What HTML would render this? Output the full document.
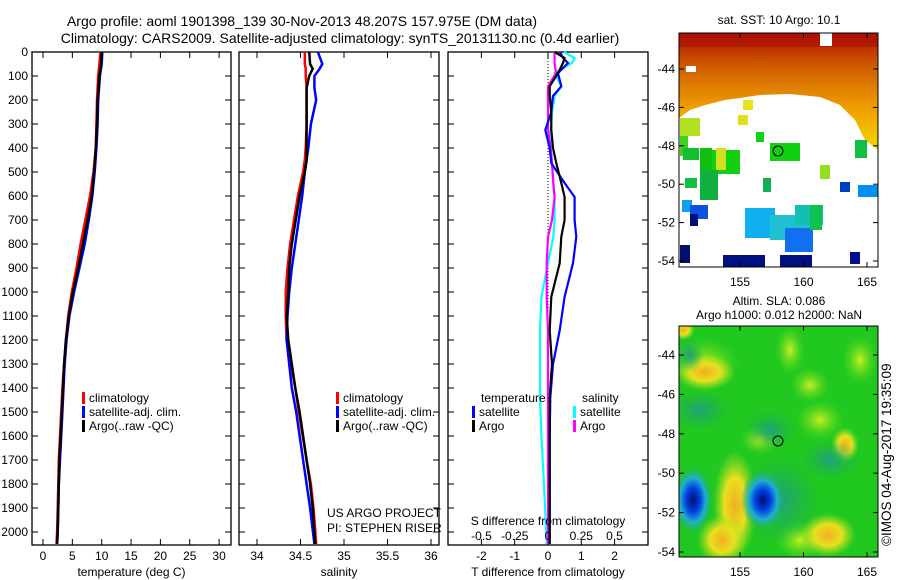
<!DOCTYPE html>
<html><head><meta charset="utf-8"><style>
html,body{margin:0;padding:0;background:#fff;}
svg{display:block;font-family:"Liberation Sans",sans-serif;}
text{font-size:12px;fill:#000;}
</style></head><body>
<svg id="fig" width="900" height="580" viewBox="0 0 900 580">
<text x="302" y="26" text-anchor="middle" style="font-size:14px">Argo profile: aoml 1901398_139 30-Nov-2013 48.207S 157.975E (DM data)</text>
<text x="340" y="43" text-anchor="middle" style="font-size:14px">Climatology: CARS2009. Satellite-adjusted climatology: synTS_20131130.nc (0.4d earlier)</text>
<g id="p1"></g>
<g id="p2"></g>
<g id="p3"></g>
<g id="maps"></g>
<text x="0" y="0" transform="translate(891,546) rotate(-90)" style="font-size:13.5px">©IMOS 04-Aug-2017 19:35:09</text>
</svg>
<script>
// depth levels (dbar)
const tDepth=[0,50,100,200,300,400,500,600,700,800,900,1000,1100,1200,1300,1400,1500,1600,1700,1800,1900,2000,2050];
const tArgo=[10,9.9,9.6,9.3,9.2,9.0,8.7,8.3,7.6,6.8,6.0,5.1,4.4,3.9,3.6,3.4,3.2,3.0,2.8,2.7,2.6,2.5,2.4];
const tClim=[9.8,9.6,9.4,9.2,9.1,9.0,8.6,8.0,7.2,6.4,5.7,4.9,4.3,3.9,3.6,3.3,3.1,2.9,2.7,2.6,2.5,2.4,2.3];
const tSat=[10.1,10.0,9.7,9.4,9.3,9.1,8.8,8.4,7.8,7.1,6.2,5.3,4.5,4.0,3.7,3.5,3.3,3.1,2.9,2.7,2.6,2.5,2.4];
const sDepth=[0,50,70,100,150,200,300,400,450,500,600,800,900,1000,1100,1200,1300,1400,1500,1700,1800,1900,2050];
const sArgo=[34.60,34.61,34.64,34.60,34.57,34.57,34.57,34.57,34.57,34.55,34.49,34.40,34.37,34.36,34.34,34.36,34.40,34.44,34.49,34.57,34.61,34.64,34.67];
const sClim=[34.55,34.55,34.56,34.56,34.57,34.57,34.57,34.56,34.55,34.53,34.47,34.38,34.35,34.33,34.33,34.34,34.39,34.44,34.48,34.57,34.62,34.65,34.68];
const sSat=[34.70,34.75,34.72,34.66,34.66,34.68,34.62,34.59,34.57,34.55,34.52,34.44,34.40,34.37,34.35,34.34,34.37,34.40,34.45,34.53,34.57,34.61,34.66];
const dDepth=[0,25,46,88,143,183,250,325,400,463,546,604,700,770,880,1020,1160,1300,1440,1600,1800,2050];
const dTSat=[0.36,0.45,0.6,0.3,0.4,0.15,0.1,-0.08,0.05,0.1,0.5,0.8,0.8,0.85,0.75,0.5,0.35,0.15,0.07,0.05,0.05,0.05];
const dTArgo=[0.2,0.5,0.45,0.3,0.05,0.05,0.1,0.1,0.15,0.25,0.4,0.5,0.5,0.4,0.35,0.1,0.05,0.12,0.05,0.05,0.05,0.05];
const dSSat=[0.12,0.2,0.18,0.05,0.1,0.05,0.03,0.02,0.02,0.03,0.04,0.05,0.05,0.04,0.0,-0.05,-0.06,-0.06,-0.06,-0.05,-0.03,-0.01];
const dSArgo=[0.05,0.05,0.05,0.06,0.0,0.0,0.0,0.0,0.02,0.03,0.04,0.05,0.03,0.0,-0.01,-0.01,0.0,0.0,0.0,0.0,0.0,0.0];
const depthTicks=[0,100,200,300,400,500,600,700,800,900,1000,1100,1200,1300,1400,1500,1600,1700,1800,1900,2000];
const tTicks=[0,5,10,15,20,25,30];
const sTicks=[34,34.5,35,35.5,36];
const dtTicks=[-2,-1,0,1,2];
const dsTicks=[-0.5,-0.25,0,0.25,0.5];
const dsTickLabels=["-0.5","-0.25","0","0.25","0.5"];

const NS="http://www.w3.org/2000/svg";
function mk(tag,attrs,parent){const e=document.createElementNS(NS,tag);for(const k in attrs)e.setAttribute(k,attrs[k]);parent.appendChild(e);return e;}
const yD=d=>52+0.24*d;
const xT=v=>43+5.87*v;
const xS=v=>257+(v-34)*87;
const xDT=v=>548+33.3*v;
const xDS=v=>548+133*v;

function frame(g,x0,x1,xticks,xf,labels,title,yLabels){
  const r=mk('rect',{x:x0,y:52,width:x1-x0,height:493,fill:'none',stroke:'#000','stroke-width':1.3},g);
  
  depthTicks.forEach(d=>{const y=yD(d);
    mk('line',{x1:x0,x2:x0+6,y1:y,y2:y,stroke:'#000'},g);mk('line',{x1:x1-6,x2:x1,y1:y,y2:y,stroke:'#000'},g);
    if(yLabels){const t=mk('text',{x:x0-4,y:y+4,'text-anchor':'end'},g);t.textContent=d;
      }});
  xticks.forEach((v,i)=>{const x=xf(v);
    mk('line',{x1:x,x2:x,y1:545,y2:539,stroke:'#000'},g);mk('line',{x1:x,x2:x,y1:52,y2:58,stroke:'#000'},g);
    const t=mk('text',{x:x,y:560,'text-anchor':'middle'},g);t.textContent=labels[i];
    });
  const tt=mk('text',{x:(x0+x1)/2,y:576,'text-anchor':'middle'},g);tt.textContent=title;
  
}
function line(g,ds,vs,xf,col,name,w){
  const p=mk('polyline',{points:ds.map((d,i)=>xf(vs[i]).toFixed(1)+','+yD(d).toFixed(1)).join(' '),fill:'none',stroke:col,'stroke-width':w||2.5},g);
  
}
function leg(g,x,y,col,txt){
  if(col)mk('rect',{x:x,y:y-10,width:3,height:12,fill:col},g);
  const t=mk('text',{x:x+7,y:y},g);t.textContent=txt;
  
}
const p1=document.getElementById('p1'),p2=document.getElementById('p2'),p3=document.getElementById('p3');
frame(p1,32,231,tTicks,xT,tTicks.map(String),'temperature (deg C)',true);
line(p1,tDepth,tClim,xT,'#f00','temp-climatology-line');
line(p1,tDepth,tSat,xT,'#00f','temp-satellite-line');
line(p1,tDepth,tArgo,xT,'#000','temp-argo-line');
leg(p1,82,402,'#f00','climatology');leg(p1,82,416,'#00f','satellite-adj. clim.');leg(p1,82,430,'#000','Argo(..raw -QC)');

frame(p2,239,439,sTicks,xS,sTicks.map(String),'salinity',false);
line(p2,sDepth,sClim,xS,'#f00','sal-climatology-line');
line(p2,sDepth,sSat,xS,'#00f','sal-satellite-line');
line(p2,sDepth,sArgo,xS,'#000','sal-argo-line');
leg(p2,336,402,'#f00','climatology');leg(p2,336,416,'#00f','satellite-adj. clim.');leg(p2,336,430,'#000','Argo(..raw -QC)');
leg(p2,320,517,null,'US ARGO PROJECT');leg(p2,320,532,null,'PI: STEPHEN RISER');

frame(p3,448,648,dtTicks,xDT,dtTicks.map(String),'T difference from climatology',false);
mk('line',{x1:548,x2:548,y1:52,y2:545,stroke:'#000','stroke-dasharray':'1,2'},p3);
line(p3,dDepth,dSSat,xDS,'#0ff','sdiff-satellite-line',2.2);
line(p3,dDepth,dSArgo,xDS,'#f0f','sdiff-argo-line',2.2);
line(p3,dDepth,dTSat,xDT,'#00f','tdiff-satellite-line',2.2);
line(p3,dDepth,dTArgo,xDT,'#000','tdiff-argo-line',2.2);
leg(p3,474,402,null,'temperature');leg(p3,575,402,null,'salinity');
leg(p3,472,416,'#00f','satellite');leg(p3,472,430,'#000','Argo');
leg(p3,573,416,'#0ff','satellite');leg(p3,573,430,'#f0f','Argo');
{const t=mk('text',{x:548,y:525,'text-anchor':'middle'},p3);t.textContent='S difference from climatology';
}
dsTicks.forEach((v,i)=>{const t=mk('text',{x:xDS(v),y:540,'text-anchor':'middle'},p3);t.textContent=dsTickLabels[i];
});

// maps
const maps=document.getElementById('maps');
const latTicks=[-44,-46,-48,-50,-52,-54];
const lonTicks=[155,160,165];
const lonX=l=>740+(l-155)*12.7;
function mapFrame(y0,y1,latY){
  latTicks.forEach(l=>{const y=latY(l);
    mk('line',{x1:679,x2:684,y1:y,y2:y,stroke:'#000'},maps);mk('line',{x1:873,x2:878,y1:y,y2:y,stroke:'#000'},maps);
    const t=mk('text',{x:675,y:y+4,'text-anchor':'end'},maps);t.textContent=l;
    });
  lonTicks.forEach(l=>{const x=lonX(l);
    mk('line',{x1:x,x2:x,y1:y0,y2:y0+5,stroke:'#000'},maps);mk('line',{x1:x,x2:x,y1:y1-5,y2:y1,stroke:'#000'},maps);
    const t=mk('text',{x:x,y:y1+19,'text-anchor':'middle','font-size':'13'},maps);t.textContent=l;
    });
  const r=mk('rect',{x:679,y:y0,width:199,height:y1-y0,fill:'none',stroke:'#000'},maps);
  
}
const defs=mk('defs',{},maps);
defs.innerHTML='<linearGradient id="sst" x1="0" y1="0" x2="0" y2="1"><stop offset="0" stop-color="#b01000"/><stop offset="0.3" stop-color="#d06000"/><stop offset="0.65" stop-color="#f0a000"/><stop offset="1" stop-color="#f0d800"/></linearGradient>'+
'<clipPath id="slaClip"><rect x="679" y="326" width="199" height="231"/></clipPath>'+
'<radialGradient id="blueB"><stop offset="0" stop-color="#001070"/><stop offset="0.35" stop-color="#0040e0"/><stop offset="0.65" stop-color="#20b0d0"/><stop offset="1" stop-color="#20b060" stop-opacity="0"/></radialGradient>'+
'<radialGradient id="yelB"><stop offset="0" stop-color="#f0b020"/><stop offset="0.5" stop-color="#e8e020"/><stop offset="1" stop-color="#a0e020" stop-opacity="0"/></radialGradient>'+
'<radialGradient id="lgB"><stop offset="0" stop-color="#c8f020"/><stop offset="1" stop-color="#60d820" stop-opacity="0"/></radialGradient>'+
'<radialGradient id="tealB"><stop offset="0" stop-color="#20a080"/><stop offset="1" stop-color="#20b050" stop-opacity="0"/></radialGradient>';
// SST map
const sstY=l=>69+(-44-l)*19.2;
mk('rect',{x:679,y:33,width:199,height:234,fill:'#fff'},maps);
mk('path',{d:'M679,33 H878 V150 L865,140 L855,120 L840,105 L820,97 L790,94 L760,95 L740,98 L725,100 L705,105 L690,110 L679,118 Z',fill:'url(#sst)'},maps);
mk('rect',{x:679,y:33,width:199,height:14,fill:'#a81000',opacity:'0.6'},maps);
mk('rect',{x:820,y:33,width:12,height:13,fill:'#fff'},maps);
mk('rect',{x:686,y:66,width:10,height:6,fill:'#fff'},maps);
const patches=[[680,118,20,18,'#b0e020'],[680,136,8,20,'#40d020'],[683,148,16,12,'#10c030'],[700,148,12,24,'#10c010'],[712,150,28,24,'#10d010'],[716,148,10,22,'#d0e020'],[700,170,18,30,'#10b040'],[685,178,12,10,'#10c040'],[738,115,10,10,'#e0e020'],[756,132,8,10,'#10d010'],[770,143,30,18,'#10d010'],[763,178,8,14,'#10b050'],[682,200,10,12,'#10a0f0'],[690,205,18,14,'#1050e0'],[690,214,8,12,'#001080'],[745,208,30,30,'#10b0f0'],[770,215,40,25,'#20c0d0'],[785,228,28,24,'#1070f0'],[795,205,28,20,'#10c0b0'],[810,205,12,25,'#10c050'],[840,182,10,10,'#0040c0'],[858,185,20,12,'#0090f0'],[820,165,10,14,'#90e020'],[855,140,12,18,'#10c040'],[680,245,10,18,'#001070'],[723,255,42,12,'#001080'],[780,255,32,12,'#001080'],[850,252,10,12,'#001090'],[743,100,10,10,'#e8e020']];
patches.forEach(p=>{const r=mk('rect',{x:p[0],y:p[1],width:p[2],height:p[3],fill:p[4]},maps);
});
mk('circle',{cx:778,cy:151,r:5,fill:'#10d010',stroke:'#000'},maps);
mapFrame(33,267,sstY);
{const t=mk('text',{x:779,y:24,'text-anchor':'middle'},maps);t.textContent='sat. SST: 10 Argo: 10.1';
}
// SLA map
const slaY=l=>355+(-44-l)*19.7;
mk('rect',{x:679,y:326,width:199,height:231,fill:'#20c820'},maps);
const sg=mk('g',{'clip-path':'url(#slaClip)'},maps);
[[705,365,35,28,'url(#lgB)'],[790,350,15,25,'url(#lgB)'],[810,385,20,18,'url(#lgB)'],[860,360,18,25,'url(#lgB)'],[760,440,20,15,'url(#lgB)'],[820,420,25,20,'url(#lgB)'],[800,540,25,20,'url(#lgB)'],
[705,372,30,18,'url(#yelB)'],[683,330,12,10,'url(#yelB)'],[735,505,22,55,'url(#yelB)'],[722,540,25,25,'url(#yelB)'],[828,535,28,22,'url(#yelB)'],[845,445,14,18,'url(#yelB)'],[770,430,25,20,'url(#tealB)'],[700,410,30,20,'url(#tealB)'],[780,500,40,45,'url(#tealB)'],[830,460,30,20,'url(#tealB)'],[690,355,14,18,'url(#tealB)'],[763,500,22,30,'url(#blueB)'],[693,500,20,34,'url(#blueB)']].forEach(p=>{
const e=mk('ellipse',{cx:p[0],cy:p[1],rx:p[2],ry:p[3],fill:p[4]},sg);
});
mk('circle',{cx:778,cy:441,r:5,fill:'none',stroke:'#000'},maps);
mapFrame(326,557,slaY);
{const t=mk('text',{x:779,y:305,'text-anchor':'middle'},maps);t.textContent='Altim. SLA: 0.086';

const t2=mk('text',{x:779,y:319,'text-anchor':'middle'},maps);t2.textContent='Argo h1000: 0.012 h2000: NaN';
}
</script>
</body></html>
